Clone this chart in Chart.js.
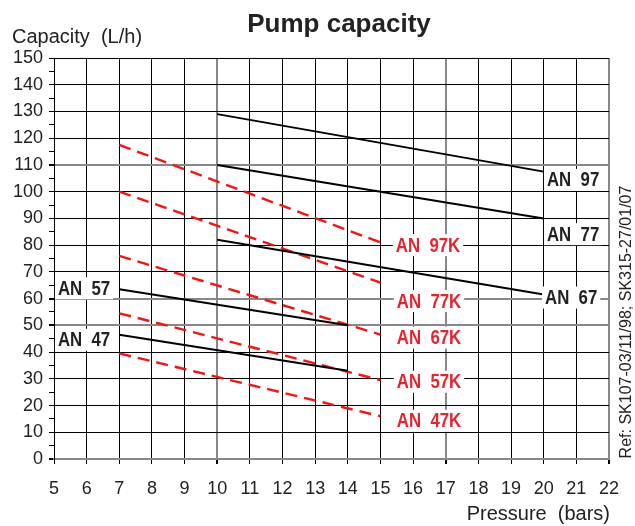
<html>
<head>
    <meta charset="UTF-8">
    <title>Pump capacity</title>
    <script src="https://cdn.jsdelivr.net/npm/chart.js@4.4.1/dist/chart.umd.min.js"></script>
    <style>
        body { margin: 0; background: #fff; }
    </style>
</head>
<body>
<canvas id="myChart" width="635" height="526"></canvas>

<script>
    // pressure (bars) at the ends of each curve
    var pLong = [10, 20];   // AN 97 / 77 / 67
    var pShort = [7, 14];   // AN 57 / 47
    var pK = [7, 15];       // K versions

    // capacity (L/h)
    var an97 = [129, 107.5];
    var an77 = [110, 90];
    var an67 = [82, 61.5];
    var an57 = [63.5, 50];
    var an47 = [46.5, 33];

    var an97k = [117.5, 81];
    var an77k = [100, 66];
    var an67k = [76, 46.5];
    var an57k = [54.5, 29.5];
    var an47k = [39.5, 16];

    // curve names, and where the name sits (pressure, capacity)
    var labelText = ['AN  97', 'AN  77', 'AN  67', 'AN  57', 'AN  47',
                     'AN  97K', 'AN  77K', 'AN  67K', 'AN  57K', 'AN  47K'];
    var labelP = [20.1, 20.1, 20.04, 5.12, 5.12, 15.47, 15.5, 15.5, 15.5, 15.5];
    var labelQ = [104.4, 84.1, 60.4, 63.9, 44.6, 80.0, 59.1, 45.4, 28.9, 14.3];

    var grayX = [10, 17, 22];
    var grayY = [0, 50, 60, 110];

    function pts(xs, ys) {
        var out = [];
        for (var i = 0; i < xs.length; i++) {
            out.push({x: xs[i], y: ys[i]});
        }
        return out;
    }

    function solid(d) {
        return {data: d, showLine: true, borderColor: '#000', borderWidth: 2, pointRadius: 0, fill: false};
    }
    function dashed(d) {
        return {data: d, showLine: true, borderColor: '#ff1010', borderWidth: 2.4, borderDash: [12, 7], pointRadius: 0, fill: false};
    }

    var textPlugin = {
        id: 'texts',
        afterDatasetsDraw: function (chart) {
            var c = chart.ctx;
            var xs = chart.scales.x, ys = chart.scales.y;
            var squeeze = 0.84; // condensed look of the original labels
            c.save();
            c.textBaseline = 'middle';
            c.textAlign = 'left';
            c.font = 'bold 20px "Liberation Sans", Arial';
            for (var i = 0; i < labelText.length; i++) {
                var px = xs.getPixelForValue(labelP[i]);
                var py = ys.getPixelForValue(labelQ[i]);
                var w = c.measureText(labelText[i]).width * squeeze;
                c.fillStyle = '#fff';
                c.fillRect(px - 3, py - 11, w + 6, 22);
                c.fillStyle = i < 5 ? '#222' : '#e8232d';
                c.save();
                c.translate(px, py + 1);
                c.scale(squeeze, 1);
                c.fillText(labelText[i], 0, 0);
                c.restore();
            }

            // title and axis names
            c.fillStyle = '#222';
            c.textBaseline = 'alphabetic';
            c.textAlign = 'center';
            c.font = 'bold 26px "Liberation Sans", Arial';
            c.fillText('Pump capacity', 339, 32);
            c.textAlign = 'left';
            c.font = '20px "Liberation Sans", Arial';
            c.fillText('Capacity  (L/h)', 12, 43);
            c.textAlign = 'right';
            c.fillText('Pressure  (bars)', 610, 520);

            c.translate(631, 322);
            c.rotate(-Math.PI / 2);
            c.textAlign = 'center';
            c.font = '16px "Liberation Sans", Arial';
            c.fillText('Ref: SK107-03/11/98; SK315-27/01/07', 0, 0);
            c.restore();
        }
    };

    var ctx = document.getElementById('myChart');
    var myChart = new Chart(ctx, {
        type: 'scatter',
        data: {
            datasets: [
                solid(pts(pLong, an97)),
                solid(pts(pLong, an77)),
                solid(pts(pLong, an67)),
                solid(pts(pShort, an57)),
                solid(pts(pShort, an47)),
                dashed(pts(pK, an97k)),
                dashed(pts(pK, an77k)),
                dashed(pts(pK, an67k)),
                dashed(pts(pK, an57k)),
                dashed(pts(pK, an47k))
            ]
        },
        options: {
            responsive: false,
            animation: false,
            layout: {padding: {left: 0, top: 58, right: 26, bottom: 0}},
            plugins: {
                legend: {display: false},
                title: {display: false},
                tooltip: {enabled: false}
            },
            scales: {
                x: {
                    type: 'linear',
                    min: 5,
                    max: 22,
                    afterFit: function (s) { s.height = 67; },
                    border: {color: '#888', width: 2},
                    grid: {
                        color: function (g) { return grayX.indexOf(g.tick.value) >= 0 ? '#888' : '#000'; },
                        lineWidth: function (g) { return grayX.indexOf(g.tick.value) >= 0 ? 2 : 1; },
                        tickColor: '#000',
                        tickLength: 5
                    },
                    ticks: {
                        stepSize: 1,
                        autoSkip: false,
                        maxRotation: 0,
                        color: '#222',
                        padding: 14,
                        font: {family: '"Liberation Sans", Arial', size: 18}
                    }
                },
                y: {
                    min: 0,
                    max: 150,
                    afterFit: function (s) { s.width = 54; },
                    border: {color: '#000', width: 1},
                    grid: {
                        color: function (g) {
                            var v = g.tick.value;
                            if (v % 10 !== 0) return 'rgba(0,0,0,0)';
                            return grayY.indexOf(v) >= 0 ? '#888' : '#000';
                        },
                        lineWidth: function (g) { return grayY.indexOf(g.tick.value) >= 0 ? 2 : 1; },
                        tickColor: '#000',
                        tickLength: 5
                    },
                    ticks: {
                        stepSize: 5,
                        autoSkip: false,
                        color: '#222',
                        padding: 6,
                        font: {family: '"Liberation Sans", Arial', size: 18},
                        callback: function (v) { return v % 10 === 0 ? v : ''; }
                    }
                }
            }
        },
        plugins: [textPlugin]
    });
</script>
</body>
</html>
